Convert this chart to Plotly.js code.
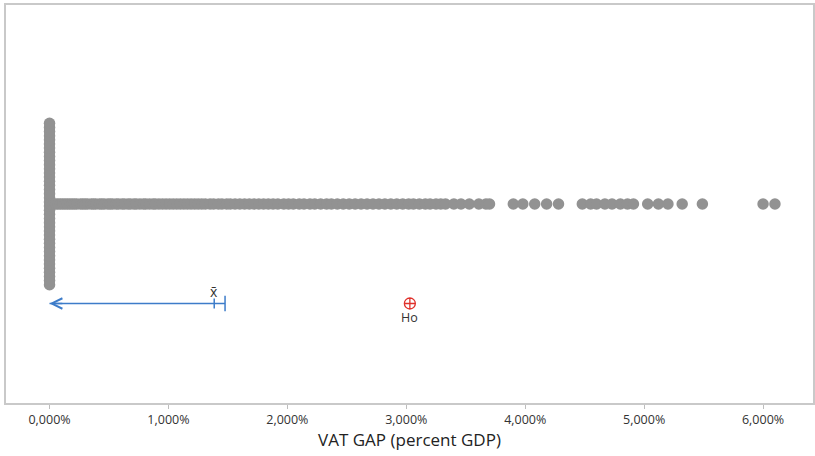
<!DOCTYPE html>
<html>
<head>
<meta charset="utf-8">
<script src="https://cdn.plot.ly/plotly-3.0.1.min.js"></script>
<style>html,body{margin:0;padding:0;background:#fff;}#chart{width:815px;height:456px;}</style>
</head>
<body>
<div id="chart"></div>
<script>
const vatGap = [
  0,0,0,0,0,0,0,0,0,0,0,0,0,0,0,0,0,0,0,0,
  0,0,0,0,0,0,0,0,0,0,0,0,0,0,0,0,0,0,0,0,
  0.01,0.03,0.05,0.07,0.09,0.11,0.13,0.15,0.17,0.19,0.21,0.23,0.26,0.28,0.30,0.32,0.35,0.37,0.39,0.42,
  0.44,0.46,0.49,0.51,0.53,0.56,0.58,0.61,0.63,0.66,0.68,0.71,0.73,0.76,0.79,0.81,0.84,0.87,0.89,0.92,
  0.95,0.98,1.01,1.04,1.07,1.10,1.13,1.16,1.19,1.22,1.25,1.28,1.31,1.35,1.38,1.42,1.45,1.49,1.52,1.56,
  1.60,1.64,1.68,1.72,1.76,1.80,1.84,1.88,1.92,1.97,2.01,2.05,2.10,2.14,2.19,2.23,2.28,2.33,2.37,2.42,
  2.47,2.52,2.57,2.62,2.67,2.72,2.77,2.82,2.87,2.92,2.97,3.02,3.06,3.11,3.16,3.20,3.25,3.29,3.33,
  3.40,3.46,3.53,3.61,3.67,3.70,
  3.90,3.98,4.08,4.18,4.28,
  4.48,4.55,4.60,4.67,4.73,4.80,4.86,4.91,
  5.03,5.12,5.20,5.32,5.49,
  6.00,6.10
];
// Summary statistics shown under the dots
const sampleMean = 1.385;
const upperBound = 1.476;
const hypothesizedMean = 3.03;
// Axis ticks
const tickValues = [0, 1, 2, 3, 4, 5, 6];
const tickLabels = ["0,000%", "1,000%", "2,000%", "3,000%", "4,000%", "5,000%", "6,000%"];

const rowLevel = 0.5;
const ciLevel = 0.25;
const stackStep = 0.0104;

// stack tied values vertically, centred on the row
const counts = {};
vatGap.forEach(v => { counts[v] = (counts[v] || 0) + 1; });
const seen = {};
const dotY = vatGap.map(v => {
  const n = counts[v];
  const i = seen[v] = (seen[v] === undefined ? 0 : seen[v] + 1);
  return rowLevel + (i - (n - 1) / 2) * stackStep;
});
const minVal = Math.min(...vatGap);

const blue = "#3d7cc9";
const red = "#e0312b";
const traces = [
  {x: vatGap, y: dotY, type: "scatter", mode: "markers",
   marker: {size: 11.5, color: "#929292"}, hoverinfo: "x"},
  {x: [upperBound, minVal], y: [ciLevel, ciLevel], type: "scatter", mode: "lines",
   line: {color: blue, width: 1.3}, hoverinfo: "skip"},
  {x: [sampleMean], y: [ciLevel], type: "scatter", mode: "markers",
   marker: {symbol: "line-ns-open", size: 7, color: blue, line: {color: blue, width: 1.5}}, hoverinfo: "x"},
  {x: [upperBound], y: [ciLevel], type: "scatter", mode: "markers",
   marker: {symbol: "line-ns-open", size: 11, color: blue, line: {color: blue, width: 1.5}}, hoverinfo: "x"},
  {x: [hypothesizedMean], y: [ciLevel], type: "scatter", mode: "markers",
   marker: {symbol: "circle-cross-open", size: 11, color: red, line: {color: red, width: 1.3}}, hoverinfo: "x"}
];

const layout = {
  width: 815, height: 456,
  margin: {l: 6, r: 2, t: 5, b: 53},
  paper_bgcolor: "#fff", plot_bgcolor: "#fff",
  showlegend: false,
  font: {family: "Open Sans, Noto Sans, sans-serif", color: "#333"},
  xaxis: {
    range: [-0.366, 6.42], showgrid: false, zeroline: false,
    tickmode: "array", tickvals: tickValues, ticktext: tickLabels,
    ticks: "outside", ticklen: 4, tickcolor: "#bdbdbd", tickwidth: 1,
    tickfont: {size: 12.5, color: "#333"},
    showline: true, mirror: true, linecolor: "#c9c9c9", linewidth: 2,
    title: {text: "VAT GAP (percent GDP)", font: {size: 17, color: "#222"}, standoff: 7}
  },
  yaxis: {
    range: [0, 1], showgrid: false, zeroline: false, showticklabels: false, ticks: "",
    showline: true, mirror: true, linecolor: "#c9c9c9", linewidth: 2
  },
  annotations: [
    {x: minVal, y: ciLevel, ax: minVal + 0.12, ay: ciLevel, xref: "x", yref: "y", axref: "x", ayref: "y",
     showarrow: true, arrowhead: 5, arrowsize: 1.6, arrowwidth: 1.3, arrowcolor: blue, text: ""},
    {x: sampleMean, y: ciLevel, xref: "x", yref: "y", text: "x\u0304", showarrow: false,
     yshift: 12, font: {size: 14, color: "#333"}},
    {x: hypothesizedMean, y: ciLevel, xref: "x", yref: "y", text: "Ho", showarrow: false,
     yshift: -14, font: {size: 12.5, color: "#333"}}
  ]
};

Plotly.newPlot("chart", traces, layout, {displayModeBar: false, staticPlot: true});
</script>
</body>
</html>
